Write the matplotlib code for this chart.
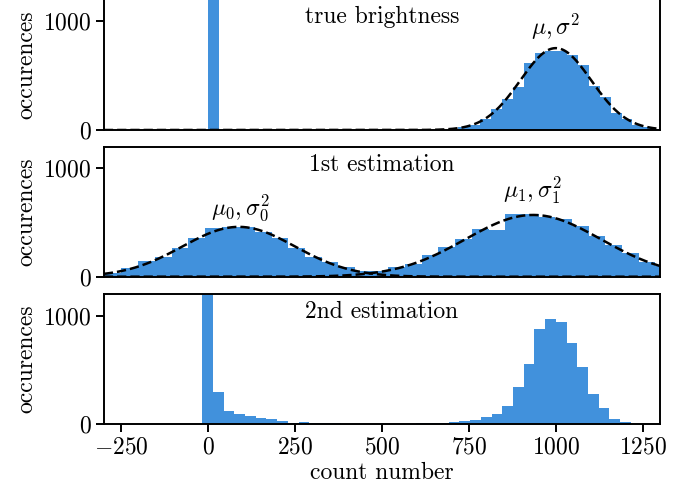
"""
photon count histograms: true brightness and two estimation steps
"""

import numpy as np
import matplotlib.pyplot as plt

plt.rcParams['font.family'] = 'serif'
plt.rcParams['font.serif'] = ['cmr10']
plt.rcParams['mathtext.fontset'] = 'cm'
plt.rcParams['axes.formatter.use_mathtext'] = True
plt.rcParams['font.size'] = 17

BLUE = '#4191dc'

# --- data ---
# panel 1: true brightness, bins of ~31.3 counts starting at 0
true_bin_start, true_bin_width = 0.0, 31.3
true_counts = [2500, 0, 0, 0, 0, 0, 0, 0, 0, 0,
               0, 0, 0, 0, 0, 0, 0, 0, 0, 0,
               1, 4, 10, 23, 50, 97, 190, 281, 397, 612,
               703, 728, 728, 688, 600, 404, 300, 153, 105, 46,
               24, 9]
true_mu, true_sigma, true_amp = 1000, 102, 750

# panel 2: 1st estimation, bins of ~48 counts
est1_bin_start, est1_bin_width = -297.4, 48.0
est1_counts = [37, 77, 145, 185, 268, 360, 446, 461, 461, 409,
               360, 265, 180, 132, 86, 55, 55, 86, 114, 200,
               277, 345, 437, 435, 575, 575, 554, 529, 468, 375,
               292, 216, 138, 101]
mu0, sigma0, amp0 = 88, 162, 460
mu1, sigma1, amp1 = 935, 195, 570

# panel 3: 2nd estimation, bins of ~30.8 counts
est2_bin_start, est2_bin_width = -48.1, 30.83
est2_counts = [5, 3000, 295, 125, 92, 73, 61, 46, 30, 14,
               21, 14, 10, 8, 6, 5, 4, 4, 4, 3,
               3, 8, 8, 10, 24, 33, 40, 70, 95, 165,
               340, 555, 877, 966, 939, 752, 528, 282, 147, 49,
               18]

labels = ['true brightness', '1st estimation', '2nd estimation']


def edges(start, width, counts):
    return start + width * np.arange(len(counts) + 1)


def gauss(x, mu, sigma, amp):
    return amp * np.exp(-0.5 * ((x - mu) / sigma) ** 2)


fig = plt.figure(figsize=(6.97, 4.90), dpi=100)
rects = [[0.149, 0.7347, 0.798, 0.2673],
         [0.149, 0.4353, 0.798, 0.2653],
         [0.149, 0.1341, 0.798, 0.2659]]
axes = [fig.add_axes(r) for r in rects]

xs = np.linspace(-300, 1300, 600)

ax = axes[0]
ax.stairs(true_counts, edges(true_bin_start, true_bin_width, true_counts),
          fill=True, color=BLUE, lw=0)
ax.plot(xs, gauss(xs, true_mu, true_sigma, true_amp), 'k--', lw=1.8)
ax.text(true_mu, 945, r'$\mu, \sigma^2$', ha='center', va='center')

ax = axes[1]
ax.stairs(est1_counts, edges(est1_bin_start, est1_bin_width, est1_counts),
          fill=True, color=BLUE, lw=0)
ax.plot(xs, gauss(xs, mu0, sigma0, amp0), 'k--', lw=1.8)
ax.plot(xs, gauss(xs, mu1, sigma1, amp1), 'k--', lw=1.8)
ax.text(94, 634, r'$\mu_0, \sigma_0^2$', ha='center', va='center')
ax.text(933, 798, r'$\mu_1, \sigma_1^2$', ha='center', va='center')

ax = axes[2]
ax.stairs(est2_counts, edges(est2_bin_start, est2_bin_width, est2_counts),
          fill=True, color=BLUE, lw=0)
ax.set_xlabel('count number', labelpad=2)

for i, ax in enumerate(axes):
    ax.set_xlim(-300, 1300)
    ax.set_ylim(0, 1200)
    ax.set_yticks([0, 1000])
    ax.set_ylabel('occurences', labelpad=4)
    ax.text(0.5, 0.862, labels[i], transform=ax.transAxes,
            ha='center', va='center')
    for s in ax.spines.values():
        s.set_linewidth(1.4)
    ax.tick_params(width=1.4, length=6, pad=3)
    if i < 2:
        ax.tick_params(bottom=False, labelbottom=False)
    else:
        ax.set_xticks([-250, 0, 250, 500, 750, 1000, 1250])

fig.savefig('out.png', dpi=100)
